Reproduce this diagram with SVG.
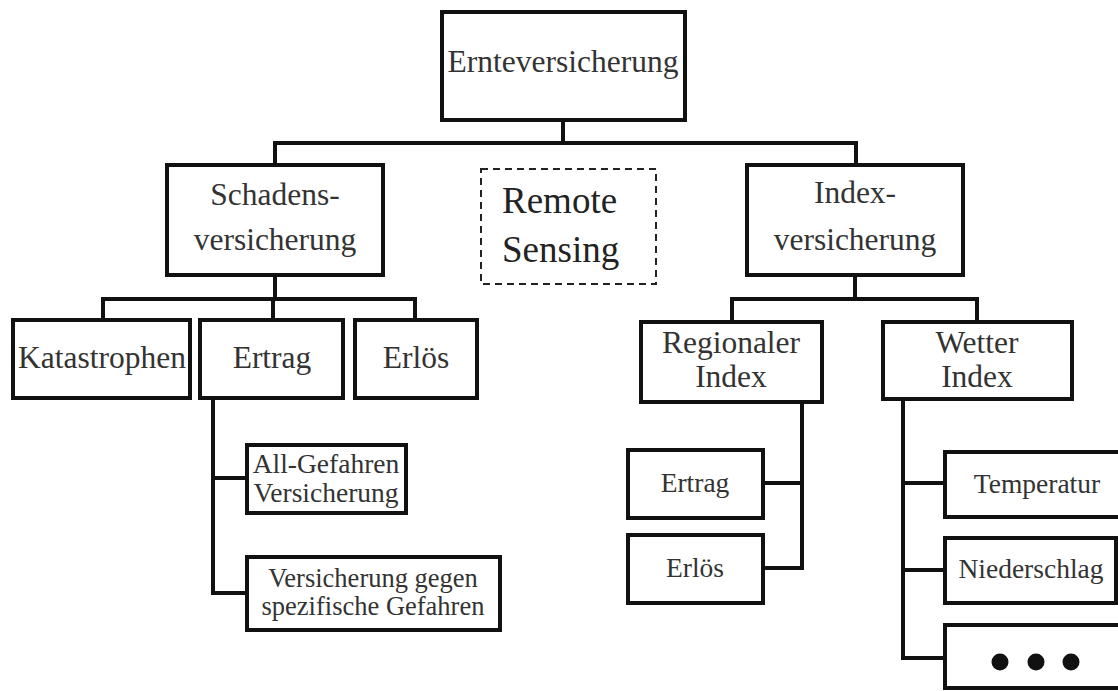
<svg xmlns="http://www.w3.org/2000/svg" width="1118" height="691" viewBox="0 0 1118 691">
<style>
.box{fill:#fff;stroke:#111;stroke-width:4}
.dash{fill:#fff;stroke:#222;stroke-width:2;stroke-dasharray:7 5}
.con{fill:none;stroke:#111;stroke-width:4;stroke-linecap:square}
text{font-family:"Liberation Serif","Times New Roman",serif;fill:#333;text-anchor:middle}
.l{font-size:31.5px}
.s{font-size:27.5px}
.t{font-size:26.5px}
.r{font-size:37px;text-anchor:start;fill:#222}
</style>
<rect width="1118" height="691" fill="#fff"/>
<g id="connectors" class="con">
<path d="M563 120V143M275 143H856M275 143V165M856 143V165"/>
<path d="M275 275V299M103 299H415M103 299V320M273 299V320M415 299V320"/>
<path d="M213 398V593M213 478H247M213 593H247"/>
<path d="M855 275V299M732 299H977M732 299V322M977 299V322"/>
<path d="M802 402V568M763 483H802M763 568H802"/>
<path d="M903 399V658M903 483H945M903 570H945M903 658H945"/>
</g>
<g id="n-ernte"><rect class="box" x="442" y="12" width="243" height="108"/><text class="l" x="563" y="72">Ernteversicherung</text></g>
<g id="n-schaden"><rect class="box" x="167" y="165" width="216" height="110"/><text class="l" x="275" y="205">Schadens-</text><text class="l" x="275" y="250">versicherung</text></g>
<g id="n-remote"><rect class="dash" x="481" y="169" width="175" height="115"/><text class="r" x="502" y="213">Remote</text><text class="r" x="502" y="262">Sensing</text></g>
<g id="n-index"><rect class="box" x="747" y="165" width="216" height="110"/><text class="l" x="855" y="203">Index-</text><text class="l" x="855" y="250">versicherung</text></g>
<g id="n-kata"><rect class="box" x="13" y="320" width="177" height="78"/><text class="l" x="102" y="368">Katastrophen</text></g>
<g id="n-ertrag"><rect class="box" x="200" y="320" width="143" height="78"/><text class="l" x="272" y="368">Ertrag</text></g>
<g id="n-erloes"><rect class="box" x="355" y="320" width="122" height="78"/><text class="l" x="416" y="368">Erlös</text></g>
<g id="n-allgef"><rect class="box" x="247" y="445" width="159" height="68"/><text class="s" x="326" y="473">All-Gefahren</text><text class="s" x="326" y="502">Versicherung</text></g>
<g id="n-spez"><rect class="box" x="247" y="557" width="253" height="73"/><text class="t" x="373" y="587">Versicherung gegen</text><text class="t" x="373" y="615">spezifische Gefahren</text></g>
<g id="n-regional"><rect class="box" x="641" y="322" width="181" height="80"/><text class="l" x="731" y="353">Regionaler</text><text class="l" x="731" y="387">Index</text></g>
<g id="n-wetter"><rect class="box" x="883" y="322" width="189" height="77"/><text class="l" x="977" y="353">Wetter</text><text class="l" x="977" y="387">Index</text></g>
<g id="n-r-ertrag"><rect class="box" x="628" y="450" width="135" height="68"/><text class="s" x="695" y="492">Ertrag</text></g>
<g id="n-r-erloes"><rect class="box" x="628" y="535" width="135" height="68"/><text class="s" x="695" y="577">Erlös</text></g>
<g id="n-temp"><rect class="box" x="945" y="452" width="180" height="65"/><text class="s" x="1037" y="493">Temperatur</text></g>
<g id="n-nieder"><rect class="box" x="945" y="538" width="171" height="65"/><text class="s" x="1031" y="578">Niederschlag</text></g>
<g id="n-dots"><rect class="box" x="945" y="625" width="180" height="63"/><circle cx="1000" cy="662" r="8.5" fill="#111"/><circle cx="1036" cy="662" r="8.5" fill="#111"/><circle cx="1071" cy="662" r="8.5" fill="#111"/></g>
</svg>
